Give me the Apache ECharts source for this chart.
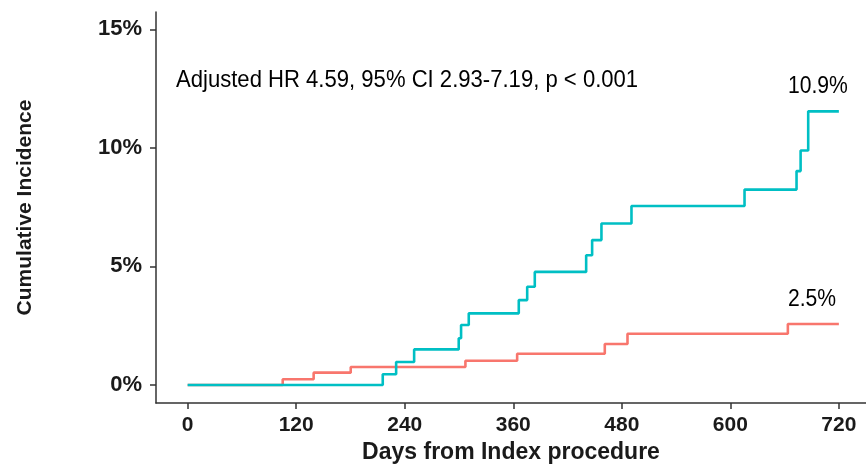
<!DOCTYPE html>
<html>
<head>
<meta charset="utf-8">
<script src="https://cdn.jsdelivr.net/npm/echarts@6/dist/echarts.min.js"></script>
<style>
html,body{margin:0;padding:0;background:#fff;}
#chart{width:866px;height:465px;}
</style>
</head>
<body>
<div id="chart"></div>
<script>
// Step points: [day, cumulative incidence %]
const cyanDays   = [0, 215.7, 230.5, 250.4, 299.7, 302.3, 310.8, 366.1, 375.4, 383.8, 440.6, 447.2, 457.5, 490.7, 615.7, 673.2, 677.7, 686.1, 720];
const cyanValues = [0, 0.45, 0.97, 1.50, 1.97, 2.53, 3.02, 3.58, 4.14, 4.77, 5.47, 6.11, 6.81, 7.55, 8.24, 9.02, 9.89, 11.54, 11.54];
const redDays    = [0, 105.1, 139.3, 180.3, 307.1, 364.3, 461.2, 486.3, 663.6, 720];
const redValues  = [0, 0.24, 0.52, 0.76, 1.02, 1.32, 1.73, 2.16, 2.57, 2.57];
const xTicks = [0, 120, 240, 360, 480, 600, 720];
const yTicks = [0, 5, 10, 15];
const annotation = 'Adjusted HR 4.59, 95% CI 2.93-7.19, p < 0.001';
const cyanLabel = '10.9%';
const redLabel = '2.5%';

const zip = (xs, ys) => xs.map((x, i) => [x, ys[i]]);
const plainFont = "'Liberation Sans', Arial, sans-serif";
const boldFont = "'Liberation Sans', Arial, sans-serif";

const chart = echarts.init(document.getElementById('chart'), null, {renderer: 'canvas'});
chart.setOption({
  animation: false,
  backgroundColor: '#ffffff',
  grid: {left: 156, right: 0, top: 12, bottom: 62, containLabel: false, outerBoundsMode: 'none'},
  xAxis: {
    type: 'value', min: -35, max: 750,
    name: 'Days from Index procedure', nameLocation: 'middle', nameGap: 38,
    nameTextStyle: {fontFamily: boldFont, fontWeight: 'bold', fontSize: 23, color: '#1a1a1a'},
    axisLine: {show: true, onZero: false, lineStyle: {color: '#333333', width: 1.5}},
    axisTick: {show: true, length: 6, customValues: xTicks, lineStyle: {color: '#333333', width: 1.5}},
    axisLabel: {customValues: xTicks, margin: 12, fontFamily: boldFont, fontWeight: 'bold', fontSize: 21, color: '#1a1a1a'},
    splitLine: {show: false}
  },
  yAxis: {
    type: 'value', min: -0.76, max: 15.73,
    name: 'Cumulative Incidence', nameLocation: 'middle', nameGap: 120, nameRotate: 90,
    nameTextStyle: {fontFamily: boldFont, fontWeight: 'bold', fontSize: 21, color: '#1a1a1a'},
    axisLine: {show: true, onZero: false, lineStyle: {color: '#333333', width: 1.5}},
    axisTick: {show: true, length: 6, customValues: yTicks, lineStyle: {color: '#333333', width: 1.5}},
    axisLabel: {customValues: yTicks, margin: 14, formatter: '{value}%', fontFamily: boldFont, fontWeight: 'bold', fontSize: 22, color: '#1a1a1a'},
    splitLine: {show: false}
  },
  series: [
    {type: 'line', step: 'end', data: zip(redDays, redValues), showSymbol: false, symbol: 'none',
     lineStyle: {color: '#F8766D', width: 2.6}, itemStyle: {color: '#F8766D'}, z: 2},
    {type: 'line', step: 'end', data: zip(cyanDays, cyanValues), showSymbol: false, symbol: 'none',
     lineStyle: {color: '#00BFC4', width: 2.6}, itemStyle: {color: '#00BFC4'}, z: 3}
  ],
  graphic: [
    {type: 'text', x: 176, y: 68, scaleX: 0.92,
     style: {text: annotation, font: '24px ' + plainFont, fill: '#000', align: 'left', verticalAlign: 'top'}},
    {type: 'text', x: 788, y: 74, scaleX: 0.88,
     style: {text: cyanLabel, font: '24px ' + plainFont, fill: '#000', align: 'left', verticalAlign: 'top'}},
    {type: 'text', x: 788, y: 287, scaleX: 0.88,
     style: {text: redLabel, font: '24px ' + plainFont, fill: '#000', align: 'left', verticalAlign: 'top'}}
  ]
});
</script>
</body>
</html>
